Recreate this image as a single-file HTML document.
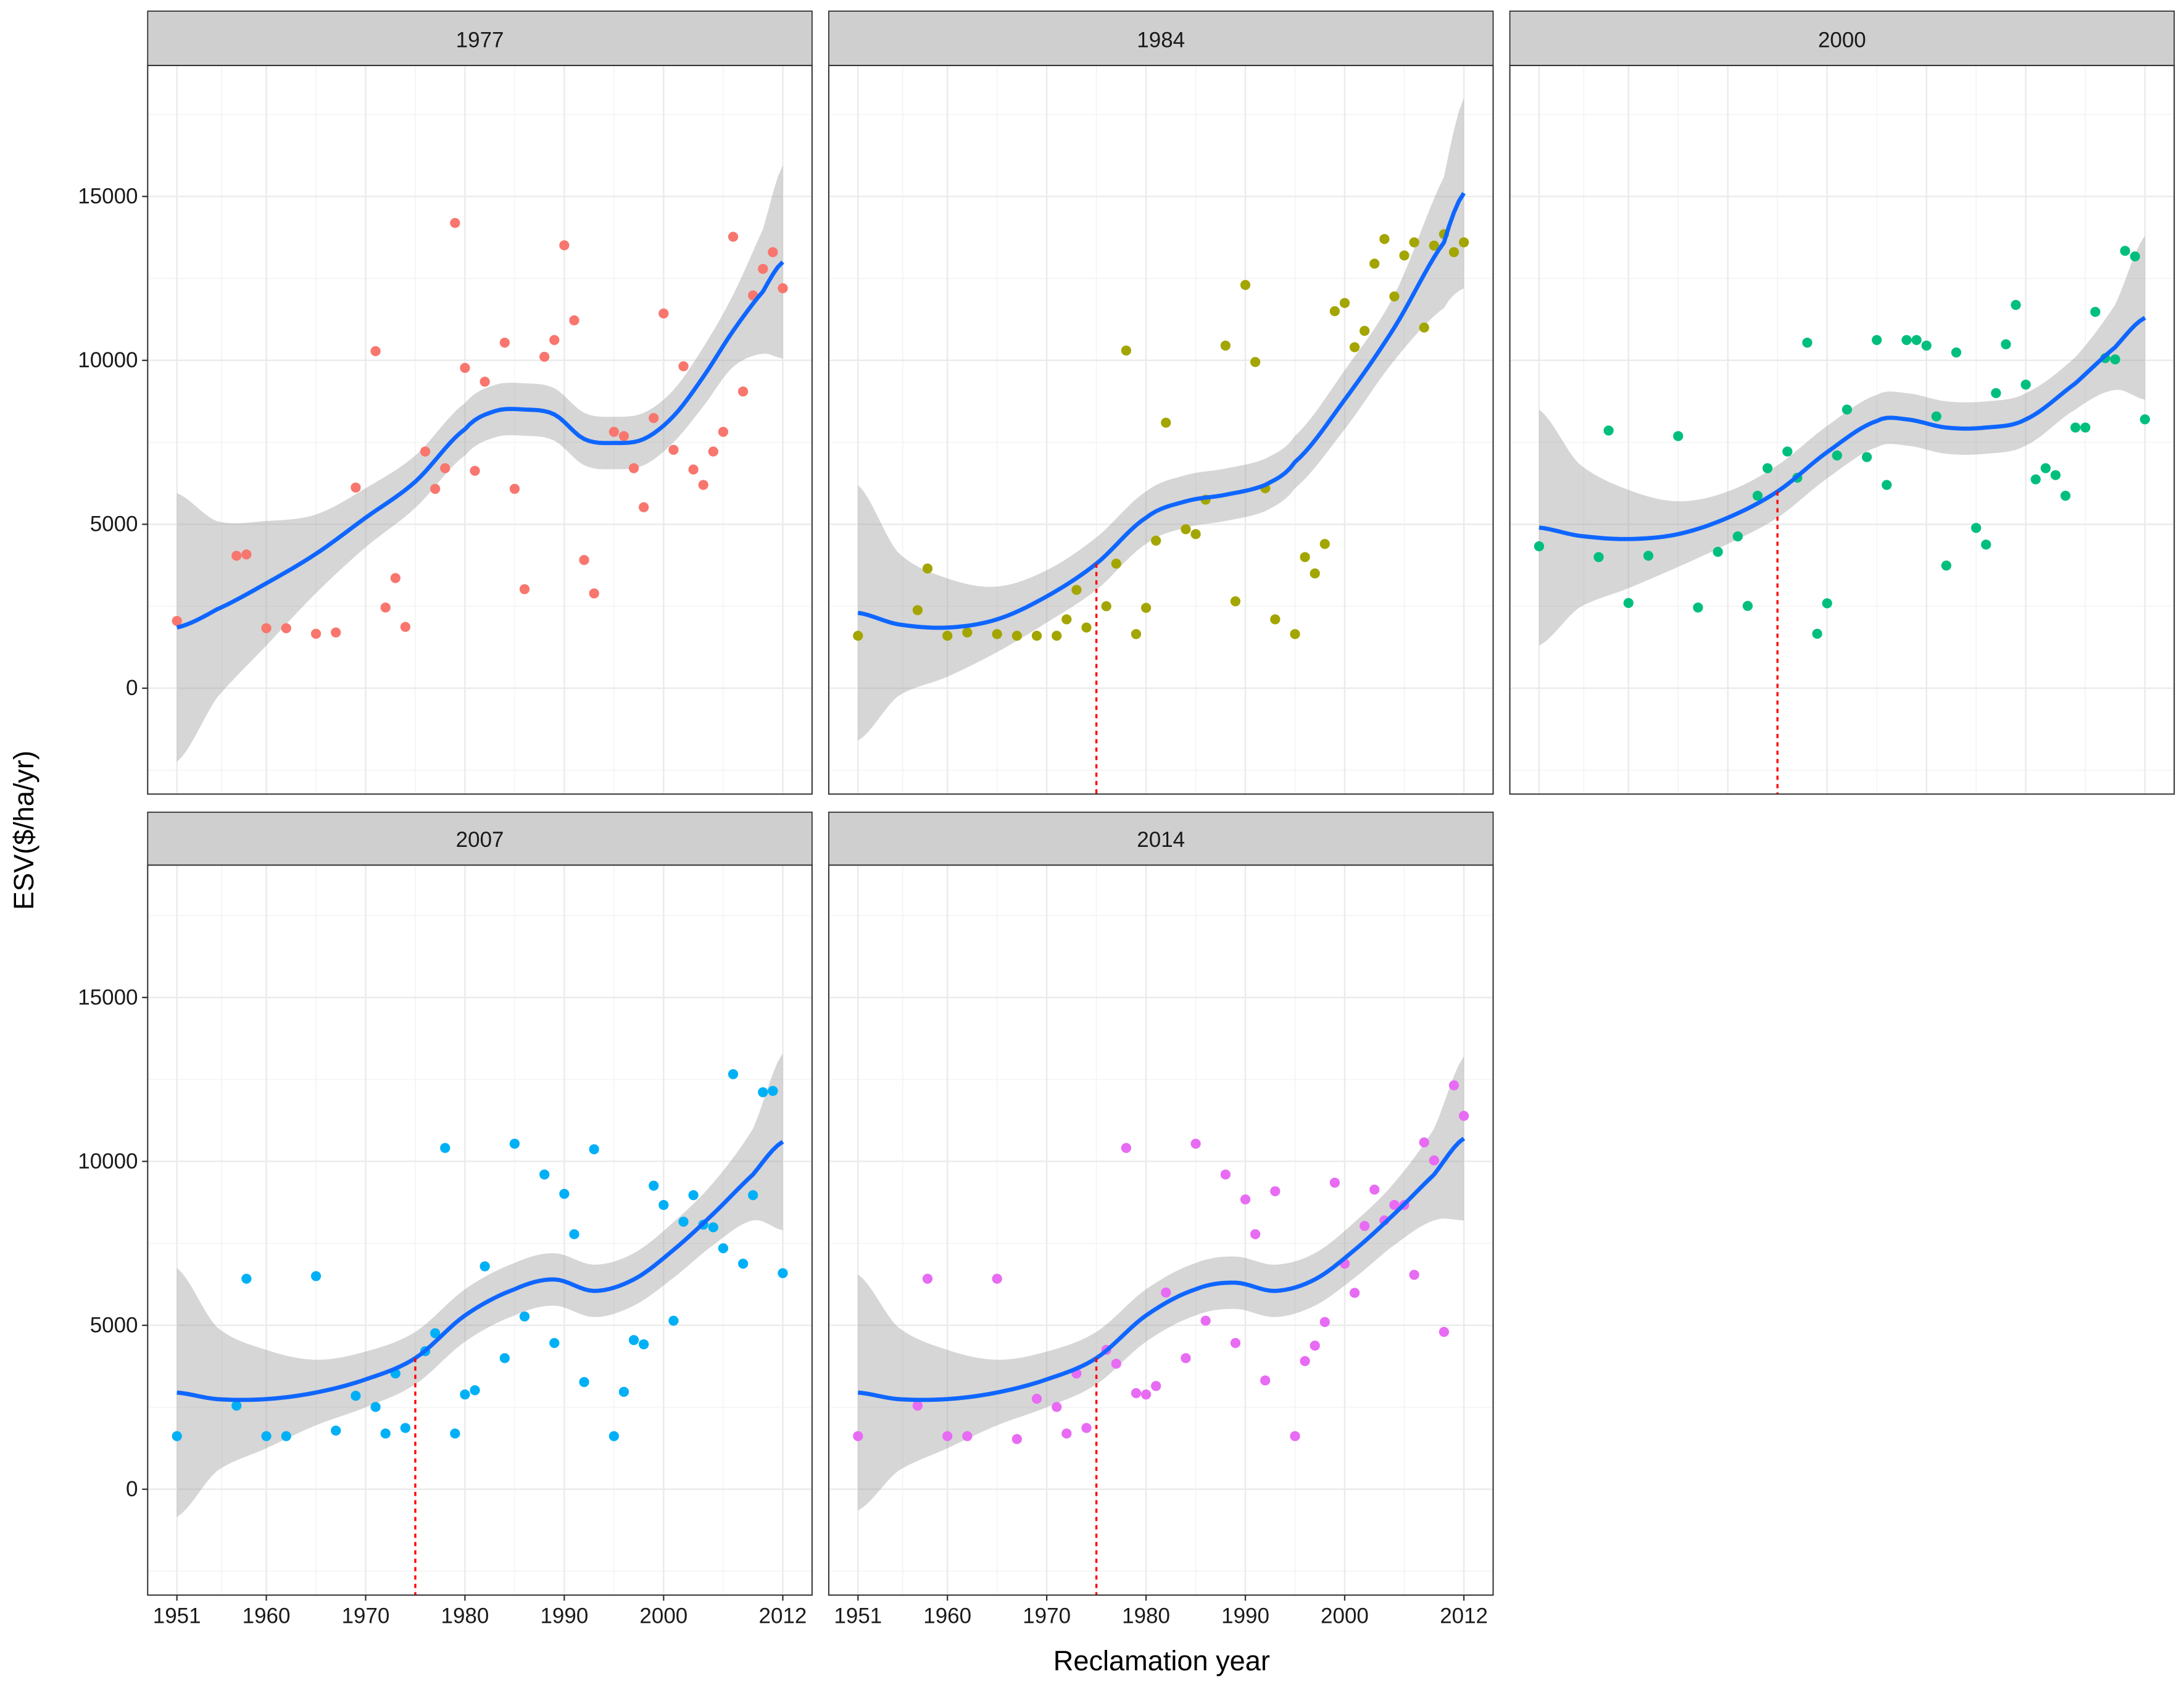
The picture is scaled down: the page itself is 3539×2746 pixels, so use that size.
<!DOCTYPE html>
<html><head><meta charset="utf-8"><style>
html,body{margin:0;padding:0;background:#fff}
svg{display:block}
text{font-family:"Liberation Sans",Arial,sans-serif}
</style></head><body>
<svg id="chart" width="3539" height="2746" viewBox="0 0 1568 1216.7" xmlns="http://www.w3.org/2000/svg">
<text x="0" y="0" transform="translate(24,596) rotate(-90)" text-anchor="middle" font-size="20">ESV($/ha/yr)</text>
<text x="834" y="1199" text-anchor="middle" font-size="20">Reclamation year</text>
</svg>
<script>
const panelNames = ["1977","1984","2000","2007","2014"];
const panelColors = ["#F8766D","#A3A500","#00BF7D","#00B0F6","#E76BF3"];
const yearTicks = [1951,1960,1970,1980,1990,2000,2012];
const valueTicks = [0,5000,10000,15000];
const thresholdYear = [null,1975,1975,1975,1975];

const years1977 = [1951,1957,1958,1960,1962,1965,1967,1969,1971,1972,1973,1974,1976,1977,1978,1979,1980,1981,1982,1984,1985,1986,1988,1989,1990,1991,1992,1993,1995,1996,1997,1998,1999,2000,2001,2002,2003,2004,2005,2006,2007,2008,2009,2010,2011,2012];
const values1977 = [2050,4040,4080,1830,1830,1660,1700,6120,10280,2460,3360,1870,7220,6080,6710,14190,9770,6630,9350,10540,6080,3020,10110,10620,13510,11220,3910,2890,7820,7690,6710,5520,8240,11430,7270,9820,6670,6200,7220,7820,13770,9050,11980,12790,13300,12200];
const years1984 = [1951,1957,1958,1960,1962,1965,1967,1969,1971,1972,1973,1974,1976,1977,1978,1979,1980,1981,1982,1984,1985,1986,1988,1989,1990,1991,1992,1993,1995,1996,1997,1998,1999,2000,2001,2002,2003,2004,2005,2006,2007,2008,2009,2010,2011,2012];
const values1984 = [1600,2380,3650,1600,1700,1650,1600,1600,1600,2100,3000,1850,2500,3800,10300,1650,2450,4500,8100,4850,4700,5750,10450,2650,12300,9950,6100,2100,1650,4000,3500,4400,11500,11750,10400,10900,12950,13700,11950,13200,13600,11000,13500,13850,13300,13600];
const years2000 = [1951,1957,1958,1960,1962,1965,1967,1969,1971,1972,1973,1974,1976,1977,1978,1979,1980,1981,1982,1984,1985,1986,1988,1989,1990,1991,1992,1993,1995,1996,1997,1998,1999,2000,2001,2002,2003,2004,2005,2006,2007,2008,2009,2010,2011,2012];
const values2000 = [4330,4000,7860,2600,4040,7690,2460,4160,4630,2510,5870,6710,7220,6420,10540,1660,2590,7100,8500,7050,10620,6200,10620,10620,10450,8290,3740,10240,4890,4380,9000,10490,11690,9260,6370,6710,6500,5870,7950,7950,11480,10070,10030,13340,13170,8200];
const years2007 = [1951,1957,1958,1960,1962,1965,1967,1969,1971,1972,1973,1974,1976,1977,1978,1979,1980,1981,1982,1984,1985,1986,1988,1989,1990,1991,1992,1993,1995,1996,1997,1998,1999,2000,2001,2002,2003,2004,2005,2006,2007,2008,2009,2010,2011,2012];
const values2007 = [1620,2550,6420,1620,1620,6500,1790,2850,2510,1700,3530,1870,4210,4760,10410,1700,2890,3020,6800,4000,10540,5270,9600,4460,9010,7780,3270,10370,1620,2970,4550,4420,9260,8670,5140,8160,8970,8070,7990,7350,12660,6880,8970,12110,12150,6590];
const years2014 = [1951,1957,1958,1960,1962,1965,1967,1969,1971,1972,1973,1974,1976,1977,1978,1979,1980,1981,1982,1984,1985,1986,1988,1989,1990,1991,1992,1993,1995,1996,1997,1998,1999,2000,2001,2002,2003,2004,2005,2006,2007,2008,2009,2010,2011,2012];
const values2014 = [1620,2550,6420,1620,1620,6420,1530,2760,2510,1700,3530,1870,4250,3830,10410,2930,2890,3150,6000,4000,10540,5140,9600,4460,8840,7780,3320,9090,1620,3910,4380,5100,9350,6880,5990,8030,9140,8200,8670,8670,6540,10580,10030,4800,12320,11390];

const fitYears1977 = [1951,1955,1960,1965,1970,1975,1980,1983,1986,1989,1992,1995,1998,2001,2004,2007,2010,2012];
const fitValues1977 = [1850,2400,3200,4100,5200,6300,7900,8450,8500,8350,7600,7480,7600,8300,9500,10900,12100,13000];
const fitSe1977 = [4100,2700,1900,1200,900,800,800,800,800,800,800,800,800,800,900,1100,1900,2950];
const fitYears1984 = [1951,1955,1960,1965,1970,1975,1980,1984,1988,1992,1995,2000,2005,2010,2012];
const fitValues1984 = [2300,1950,1850,2100,2800,3800,5200,5700,5900,6200,6900,8800,11000,13600,15100];
const fitSe1984 = [3900,2200,1500,1000,800,800,800,800,800,800,800,900,1000,2000,2900];
const fitYears2000 = [1951,1955,1960,1965,1970,1975,1980,1985,1988,1992,1996,2000,2005,2009,2012];
const fitValues2000 = [4900,4650,4550,4700,5200,6000,7200,8150,8200,7950,7950,8200,9300,10400,11300];
const fitSe2000 = [3600,2200,1500,1000,800,800,800,800,800,800,800,800,800,1300,2500];
const fitYears2007 = [1951,1955,1960,1965,1970,1975,1980,1985,1989,1993,1997,2001,2005,2009,2012];
const fitValues2007 = [2950,2750,2750,2950,3350,4000,5300,6100,6400,6050,6400,7300,8400,9600,10600];
const fitSe2007 = [3800,2200,1500,1000,850,800,800,800,800,800,800,850,950,1400,2700];
const fitYears2014 = [1951,1955,1960,1965,1970,1975,1980,1985,1989,1993,1997,2001,2005,2009,2012];
const fitValues2014 = [2950,2750,2750,2950,3350,4000,5300,6100,6300,6050,6400,7300,8400,9600,10700];
const fitSe2014 = [3600,2200,1500,1000,850,800,800,800,800,800,800,850,950,1400,2500];

const pointYears = [years1977,years1984,years2000,years2007,years2014];
const pointValues = [values1977,values1984,values2000,values2007,values2014];
const fitYears = [fitYears1977,fitYears1984,fitYears2000,fitYears2007,fitYears2014];
const fitValues = [fitValues1977,fitValues1984,fitValues2000,fitValues2007,fitValues2014];
const fitSe = [fitSe1977,fitSe1984,fitSe2000,fitSe2007,fitSe2014];

const NS="http://www.w3.org/2000/svg";
const svg=document.getElementById('chart');
function mk(tag,attrs,parent){const e=document.createElementNS(NS,tag);for(const k in attrs)e.setAttribute(k,attrs[k]);(parent||svg).appendChild(e);return e;}
const layout=[{l:106,row:0},{l:595,row:0},{l:1084,row:0},{l:106,row:1},{l:595,row:1}];
const rows=[{stripTop:8,top:47,bottom:570,zero:494},{stripTop:583,top:621,bottom:1145,zero:1069}];
const PW=477, K=0.023533;
function sx(p,yr){return layout[p].l+21+(yr-1951)*(435/61);}
function sy(p,v){return rows[layout[p].row].zero - v*K;}
function interp(xs,ys,x){
  let i=0; while(i<xs.length-2 && x>xs[i+1]) i++;
  const x0=xs[i],x1=xs[i+1];const t=(x-x0)/(x1-x0);
  const p0=ys[Math.max(i-1,0)],p1=ys[i],p2=ys[i+1],p3=ys[Math.min(i+2,ys.length-1)];
  const t2=t*t,t3=t2*t;
  return 0.5*((2*p1)+(-p0+p2)*t+(2*p0-5*p1+4*p2-p3)*t2+(-p0+3*p1-3*p2+p3)*t3);
}
for(let p=0;p<5;p++){
  const L=layout[p], R=rows[L.row];
  const g=mk('g',{});
  
  
  const strip=mk('rect',{x:L.l,y:R.stripTop,width:PW,height:R.top-R.stripTop,fill:'#cfcfcf',stroke:'#333','stroke-width':0.8},g);
  
  
  const st=mk('text',{x:L.l+PW/2,y:R.top-13,'text-anchor':'middle','font-size':15.5,fill:'#1a1a1a'},g);
  st.textContent=panelNames[p];
  
  
  mk('rect',{x:L.l,y:R.top,width:PW,height:R.bottom-R.top,fill:'#fff'},g);
  const minorY=[-2500,2500,7500,12500,17500];
  minorY.forEach(v=>{const y=sy(p,v); if(y>R.top&&y<R.bottom) mk('line',{x1:L.l,x2:L.l+PW,y1:y,y2:y,stroke:'#f2f2f2','stroke-width':0.6},g);});
  for(let i=0;i<yearTicks.length-1;i++){const x=sx(p,(yearTicks[i]+yearTicks[i+1])/2);mk('line',{x1:x,x2:x,y1:R.top,y2:R.bottom,stroke:'#f2f2f2','stroke-width':0.6},g);}
  valueTicks.forEach(v=>{const y=sy(p,v);mk('line',{x1:L.l,x2:L.l+PW,y1:y,y2:y,stroke:'#ebebeb','stroke-width':1.1},g);});
  yearTicks.forEach(yr=>{const x=sx(p,yr);mk('line',{x1:x,x2:x,y1:R.top,y2:R.bottom,stroke:'#ebebeb','stroke-width':1.1},g);});
  let up=[],lo=[],mid=[];
  for(let yr=1951;yr<=2012.001;yr+=0.5){
    const f=interp(fitYears[p],fitValues[p],yr), s=interp(fitYears[p],fitSe[p],yr);
    up.push(sx(p,yr).toFixed(2)+','+sy(p,f+s).toFixed(2));
    lo.unshift(sx(p,yr).toFixed(2)+','+sy(p,f-s).toFixed(2));
    mid.push(sx(p,yr).toFixed(2)+','+sy(p,f).toFixed(2));
  }
  const band=mk('polygon',{points:up.concat(lo).join(' '),fill:'#999','fill-opacity':0.4},g);
  
  
  for(let i=0;i<pointYears[p].length;i++){
    const c=mk('circle',{cx:sx(p,pointYears[p][i]),cy:sy(p,pointValues[p][i]),r:3.6,fill:panelColors[p]},g);
    
    
  }
  const line=mk('polyline',{points:mid.join(' '),fill:'none',stroke:'#0f66ff','stroke-width':3},g);
  
  
  if(thresholdYear[p]){
    const ty=thresholdYear[p];
    const dl=mk('line',{x1:sx(p,ty),x2:sx(p,ty),y1:sy(p,interp(fitYears[p],fitValues[p],ty)),y2:R.bottom,stroke:'#ff0000','stroke-width':1.5,'stroke-dasharray':'3,3'},g);
    
    
  }
  mk('rect',{x:L.l,y:R.top,width:PW,height:R.bottom-R.top,fill:'none',stroke:'#333','stroke-width':0.9},g);
  if(L.l===106){
    valueTicks.forEach(v=>{const y=sy(p,v);
      mk('line',{x1:L.l-4,x2:L.l,y1:y,y2:y,stroke:'#333','stroke-width':1},g);
      const t=mk('text',{x:L.l-7,y:y+5,'text-anchor':'end','font-size':15.5,fill:'#1a1a1a'},g);t.textContent=v;
      
      });
  }
  if(L.row===1){
    yearTicks.forEach(yr=>{const x=sx(p,yr);
      mk('line',{x1:x,x2:x,y1:R.bottom,y2:R.bottom+4,stroke:'#333','stroke-width':1},g);
      const t=mk('text',{x:x,y:R.bottom+20,'text-anchor':'middle','font-size':15.5,fill:'#1a1a1a'},g);t.textContent=yr;
      
      });
  }
}
</script>
</body></html>
